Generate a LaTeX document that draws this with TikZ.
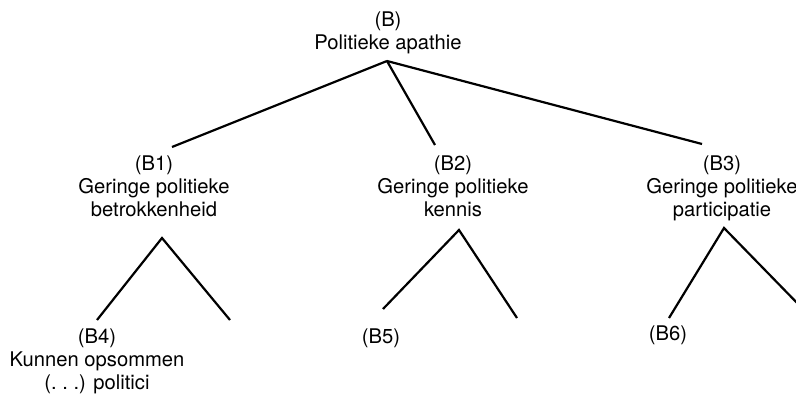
\documentclass[tikz,border=0pt]{standalone}
\usepackage{fontspec}
\setmainfont{TeX Gyre Heros}
\begin{document}
\begin{tikzpicture}[x=1pt,y=-1pt,
  lbl/.style={align=center, inner sep=0pt, anchor=base, font=\fontsize{20.2}{23}\selectfont},
  edge/.style={line width=2.2pt}]
\useasboundingbox (0,0) rectangle (796,395);
% labels (anchor = baseline of last line)
\node[lbl] (B)  at (388,50)  {(B)\\Politieke apathie};
\node[lbl] (B1) at (154,217) {(B1)\\Geringe politieke\\betrokkenheid};
\node[lbl] (B2) at (453,217) {(B2)\\Geringe politieke\\kennis};
\node[lbl] (B3) at (722,217) {(B3)\\Geringe politieke\\participatie};
\node[lbl] (B4) at (97,390)  {(B4)\\Kunnen opsommen\\(.~.~.) politici};
\node[lbl] (B5) at (381,344) {(B5)};
\node[lbl] (B6) at (668,341) {(B6)};
% connector points
\coordinate (Bapex) at (387,61);
\coordinate (B1in) at (172,147);
\coordinate (B2in) at (435,145);
\coordinate (B3in) at (702,144);
\coordinate (B1apex) at (162,238);
\coordinate (B4in) at (97,320);
\coordinate (B1r) at (230,320);
\coordinate (B2apex) at (459,230);
\coordinate (B5in) at (383,309);
\coordinate (B2r) at (517,318);
\coordinate (B3apex) at (724,228);
\coordinate (B6in) at (669,318);
\coordinate (B3r) at (802,308);
% connectors
\draw[edge] (Bapex) -- (B1in);
\draw[edge] (Bapex) -- (B2in);
\draw[edge] (Bapex) -- (B3in);
\draw[edge] (B4in) -- (B1apex) -- (B1r);
\draw[edge] (B5in) -- (B2apex) -- (B2r);
\draw[edge] (B6in) -- (B3apex) -- (B3r);
\end{tikzpicture}
\end{document}
